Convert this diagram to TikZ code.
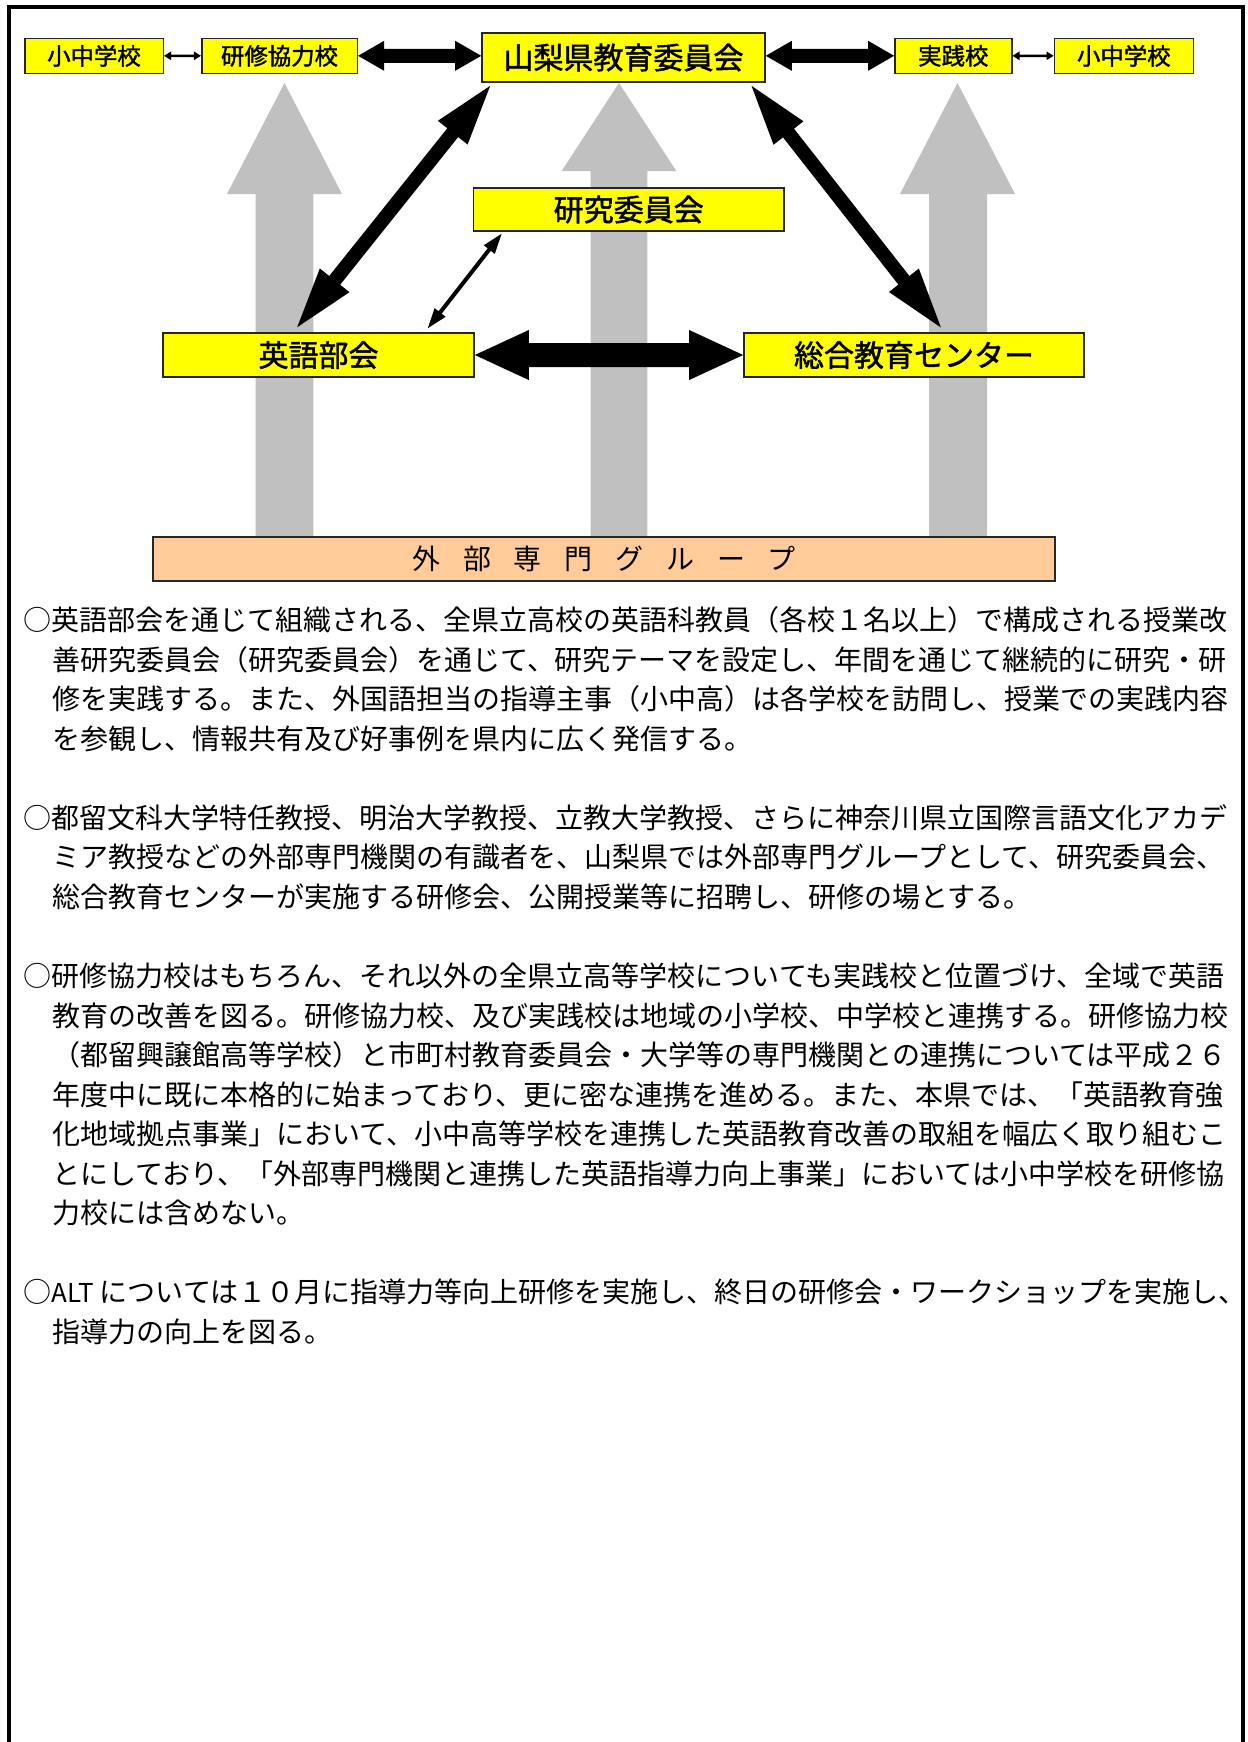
\documentclass[tikz,border=0pt]{standalone}
\usepackage{fontspec}
\setmainfont{Noto Sans CJK JP}
\newfontface\lblface{Noto Sans CJK JP}[FakeBold=1.6]
\usetikzlibrary{calc}
\definecolor{boxyellow}{RGB}{255,255,0}
\definecolor{peach}{RGB}{255,204,153}
\definecolor{arrowgray}{RGB}{192,192,192}
% double block arrow: #1 start, #2 end, #3 shaft half width, #4 head length, #5 head half width
\newcommand\dblblock[5]{%
  \coordinate (ba1) at ($(#1)!#4!(#2)$);
  \coordinate (ba2) at ($(#2)!#4!(#1)$);
  \fill[black] (#1) -- ($(ba1)!#5!90:(#2)$) -- ($(ba1)!#3!90:(#2)$)
    -- ($(ba2)!#3!-90:(#1)$) -- ($(ba2)!#5!-90:(#1)$) -- (#2)
    -- ($(ba2)!#5!90:(#1)$) -- ($(ba2)!#3!90:(#1)$)
    -- ($(ba1)!#3!-90:(#2)$) -- ($(ba1)!#5!-90:(#2)$) -- cycle;}
\newcommand\bline[4]{\node[bodyline] (#1) at (#2,{630.6+39.55*#3}) {#4};}
\begin{document}
\begin{tikzpicture}[x=0.5pt,y=-0.5pt,
  ybox/.style={draw=black!85, line width=0.8pt, fill=boxyellow, inner sep=0pt,
    font=\lblface\fontsize{15pt}{15pt}\selectfont},
  sbox/.style={ybox, font=\lblface\fontsize{11.7pt}{11.7pt}\selectfont},
  pbox/.style={draw=black!85, line width=0.8pt, fill=peach, inner sep=0pt,
    font=\fontsize{14pt}{14pt}\selectfont},
  bodyline/.style={anchor=base west, inner sep=0pt,
    font=\fontsize{14pt}{19.8pt}\selectfont}]
\useasboundingbox (0,0) rectangle (1248,1742);
\fill[white] (0,0) rectangle (1248,1742);
\draw[line width=2pt] (9,1760) -- (9,7) -- (1243,7) -- (1243,1760);

% gray upward arrows
\fill[arrowgray] (255.7,537) -- (255.7,194) -- (227,194) -- (284.5,83) -- (342,194) -- (313.3,194) -- (313.3,537) -- cycle;
\fill[arrowgray] (590.7,537) -- (590.7,171) -- (561.7,171) -- (619,83) -- (676.3,171) -- (647.3,171) -- (647.3,537) -- cycle;
\fill[arrowgray] (929,537) -- (929,194) -- (900,194) -- (957.5,83) -- (1015,194) -- (987,194) -- (987,537) -- cycle;

% boxes
\node[sbox, minimum width=69.3pt, minimum height=17.5pt] (sm1) at (94,55.8) {小中学校};
\node[sbox, minimum width=77.8pt, minimum height=17.5pt] (kenshu) at (279.5,55.8) {研修協力校};
\node[ybox, minimum width=141.5pt, minimum height=24.5pt] (yamanashi) at (623.5,57.5) {山梨県教育委員会};
\node[sbox, minimum width=58.4pt, minimum height=17.5pt] (jissen) at (953.3,55.8) {実践校};
\node[sbox, minimum width=69.5pt, minimum height=17.5pt] (sm2) at (1123.8,55.8) {小中学校};
\node[ybox, minimum width=155.3pt, minimum height=21.5pt] (kenkyu) at (628.7,209.5) {研究委員会};
\node[ybox, minimum width=155.5pt, minimum height=22pt] (eigo) at (318.5,355) {英語部会};
\node[ybox, minimum width=170pt, minimum height=22pt] (sogo) at (914,355) {総合教育センター};
\node[pbox, minimum width=451pt, minimum height=22pt] (gaibu) at (604.2,558.7)
  {外\hspace{11.4pt}部\hspace{11.4pt}専\hspace{11.4pt}門\hspace{11.4pt}グ\hspace{11.4pt}ル\hspace{11.4pt}ー\hspace{11.4pt}プ};

% connector end points
\coordinate (h1a) at (kenshu.east);
\coordinate (h1b) at (kenshu.east -| yamanashi.west);
\coordinate (h2a) at (jissen.west -| yamanashi.east);
\coordinate (h2b) at (jissen.west);
\coordinate (d1a) at ($(yamanashi.south west)+(9,3)$);
\coordinate (d1b) at ($(eigo.north west)+(135,-5)$);
\coordinate (d2a) at ($(yamanashi.south east)+(-14.3,3)$);
\coordinate (d2b) at ($(sogo.north west)+(197.7,-4.7)$);
\coordinate (t1a) at ($(kenkyu.south west)+(29,2)$);
\coordinate (t1b) at ($(eigo.north east)+(-47,-4)$);

% black arrows
\dblblock{sm1.east}{kenshu.west}{0.6pt}{3.5pt}{2.2pt}
\dblblock{jissen.east}{sm2.west}{0.6pt}{3.5pt}{2.2pt}
\dblblock{h1a}{h1b}{3.5pt}{13pt}{7.5pt}
\dblblock{h2a}{h2b}{3.5pt}{13pt}{7.5pt}
\dblblock{d1a}{d1b}{3.5pt}{30pt}{9.5pt}
\dblblock{d2a}{d2b}{3.5pt}{30pt}{9.5pt}
\dblblock{t1a}{t1b}{1pt}{10pt}{3.5pt}
\dblblock{eigo.east}{sogo.west}{6pt}{27pt}{12.5pt}

% body text
\bline{l1}{23.5}{0}{○英語部会を通じて組織される、全県立高校の英語科教員（各校１名以上）で構成される授業改}
\bline{l2}{52}{1}{善研究委員会（研究委員会）を通じて、研究テーマを設定し、年間を通じて継続的に研究・研}
\bline{l3}{52}{2}{修を実践する。また、外国語担当の指導主事（小中高）は各学校を訪問し、授業での実践内容}
\bline{l4}{52}{3}{を参観し、情報共有及び好事例を県内に広く発信する。}
\bline{l5}{23.5}{5}{○都留文科大学特任教授、明治大学教授、立教大学教授、さらに神奈川県立国際言語文化アカデ}
\bline{l6}{52}{6}{ミア教授などの外部専門機関の有識者を、山梨県では外部専門グループとして、研究委員会、}
\bline{l7}{52}{7}{総合教育センターが実施する研修会、公開授業等に招聘し、研修の場とする。}
\bline{l8}{23.5}{9}{○研修協力校はもちろん、それ以外の全県立高等学校についても実践校と位置づけ、全域で英語}
\bline{l9}{52}{10}{教育の改善を図る。研修協力校、及び実践校は地域の小学校、中学校と連携する。研修協力校}
\bline{l10}{52}{11}{（都留興譲館高等学校）と市町村教育委員会・大学等の専門機関との連携については平成２６}
\bline{l11}{52}{12}{年度中に既に本格的に始まっており、更に密な連携を進める。また、本県では、「英語教育強}
\bline{l12}{52}{13}{化地域拠点事業」において、小中高等学校を連携した英語教育改善の取組を幅広く取り組むこ}
\bline{l13}{52}{14}{とにしており、「外部専門機関と連携した英語指導力向上事業」においては小中学校を研修協}
\bline{l14}{52}{15}{力校には含めない。}
\bline{l15}{23.5}{17}{○{\fontsize{13pt}{19.8pt}\selectfont ALT}\hspace{3pt}については１０月に指導力等向上研修を実施し、終日の研修会・ワークショップを実施し、}
\bline{l16}{52}{18}{指導力の向上を図る。}
\end{tikzpicture}
\end{document}
